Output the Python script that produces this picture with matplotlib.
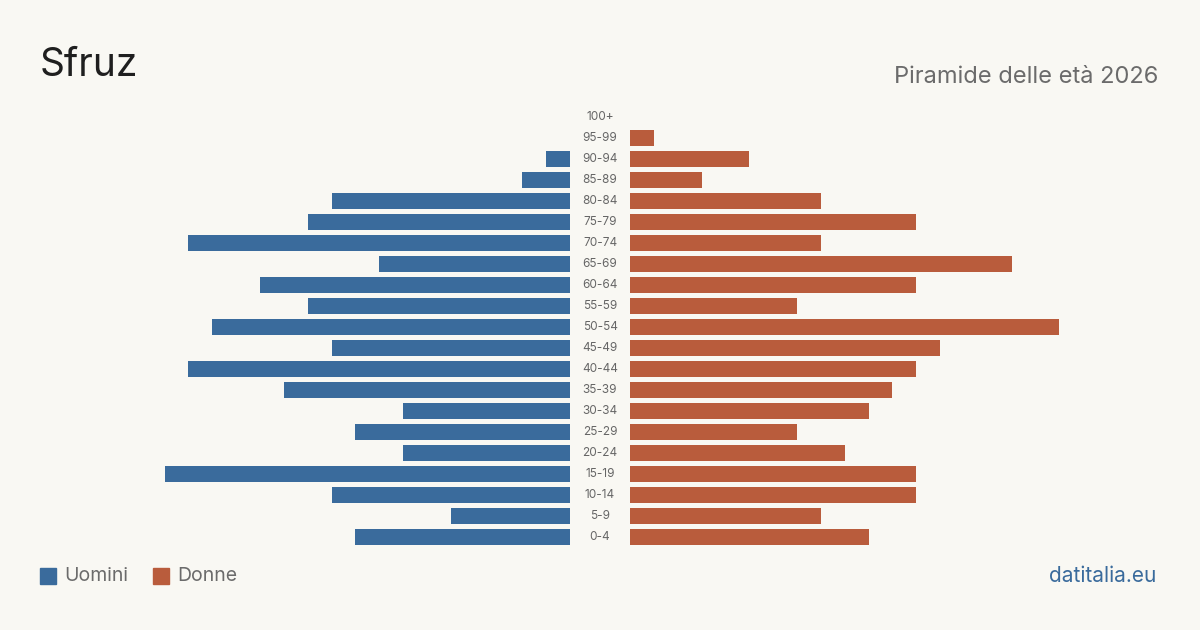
import numpy as np
import matplotlib.pyplot as plt
from matplotlib.patches import Rectangle

plt.rcParams['font.family'] = ['Inter', 'DejaVu Sans']

age_groups = ['0-4', '5-9', '10-14', '15-19', '20-24', '25-29', '30-34', '35-39',
              '40-44', '45-49', '50-54', '55-59', '60-64', '65-69', '70-74',
              '75-79', '80-84', '85-89', '90-94', '95-99', '100+']
males = [9, 5, 10, 17, 7, 9, 7, 12, 16, 10, 15, 11, 13, 8, 16, 11, 10, 2, 1, 0, 0]
females = [10, 8, 12, 12, 9, 7, 10, 11, 12, 13, 18, 7, 12, 16, 8, 12, 8, 3, 5, 1, 0]

bg = '#f9f8f3'
blue = '#3a6b9c'
red = '#b95c3c'

W, H = 1200, 630
fig = plt.figure(figsize=(12, 6.3), dpi=100, facecolor=bg)

# pixel layout -> figure fractions
ax_bottom = 1 - 547.5 / H
ax_height = 441 / H
scale = 23.85  # px per person
span = 440
axl = fig.add_axes([(570 - span) / W, ax_bottom, span / W, ax_height])
axr = fig.add_axes([630 / W, ax_bottom, span / W, ax_height])

y = np.arange(len(age_groups))
for ax in (axl, axr):
    ax.set_facecolor(bg)
    ax.set_xlim(0, span / scale)
    ax.set_ylim(-0.5, len(age_groups) - 0.5)
    ax.axis('off')

axl.barh(y, males, height=0.8, color=blue)
axl.invert_xaxis()
axr.barh(y, females, height=0.8, color=red)

# age labels in the middle
for i, lab in enumerate(age_groups):
    yy = ax_bottom + (i + 0.5) / len(age_groups) * ax_height
    fig.text(600 / W, yy, lab, ha='center', va='center', fontsize=8.5, color='#666666')

fig.text(40 / W, 1 - 66 / H, 'Sfruz', fontsize=28, color='#1f1f1f', ha='left', va='center')
fig.text(1158 / W, 1 - 77 / H, 'Piramide delle età 2026', fontsize=17, color='#6b6b6b',
         ha='right', va='center')

# legend
for x0, col, lab in [(40, blue, 'Uomini'), (153, red, 'Donne')]:
    fig.patches.append(Rectangle((x0 / W, 1 - 584 / H), 16 / W, 16 / H, color=col,
                                 transform=fig.transFigure, figure=fig))
    fig.text((x0 + 24) / W, 1 - 576 / H, lab, fontsize=14, color='#6b6b6b',
             ha='left', va='center')

fig.text(1156 / W, 1 - 576 / H, 'datitalia.eu', fontsize=15, color=blue,
         ha='right', va='center')

fig.savefig('out.png', dpi=100, facecolor=bg)
